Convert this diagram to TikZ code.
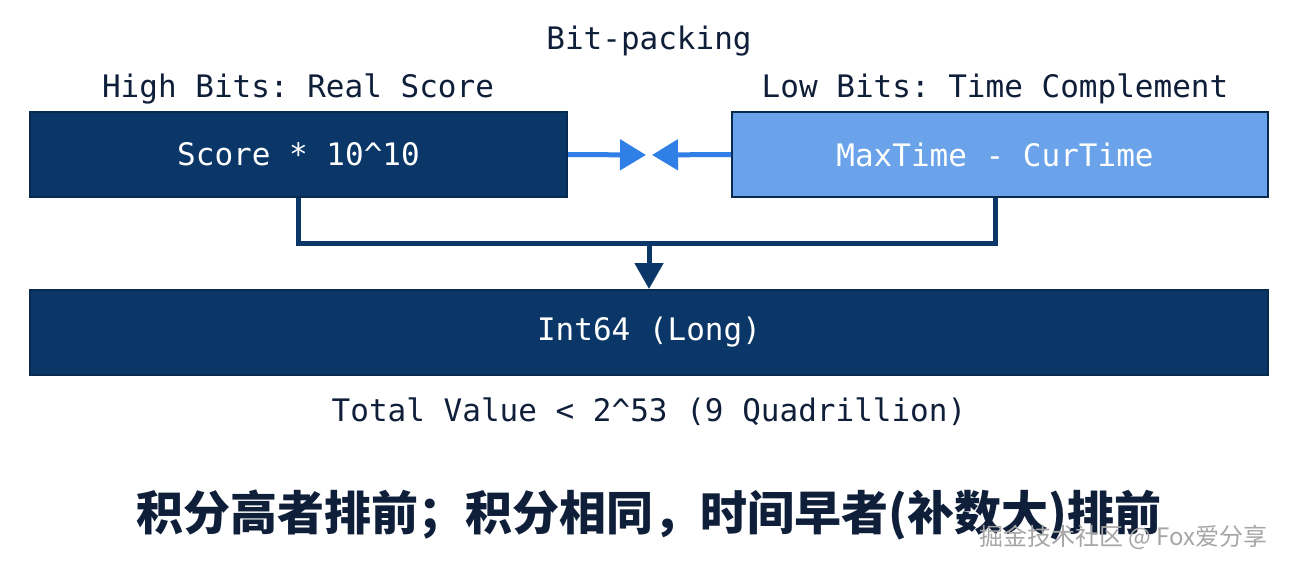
\documentclass[tikz,border=0pt]{standalone}
\usepackage{fontspec}
\setmonofont{DejaVu Sans Mono}
\newfontfamily\cjkfont{Noto Sans CJK SC}
\usetikzlibrary{arrows.meta}
\definecolor{navy}{HTML}{0B3768}
\definecolor{navyedge}{HTML}{082A4E}
\definecolor{lightblue}{HTML}{6AA3EA}
\definecolor{arrowblue}{HTML}{2F7FE6}
\definecolor{inkdark}{HTML}{0F1F3A}
\tikzset{
  lbl/.style={font=\ttfamily\fontsize{31}{31}\selectfont, text=inkdark, inner sep=0pt},
  boxdark/.style={draw=navyedge, line width=2pt, fill=navy, text=white,
    font=\ttfamily\fontsize{31}{31}\selectfont, minimum height=85pt, inner sep=0pt},
  boxlight/.style={draw=navyedge, line width=2pt, fill=lightblue, text=white,
    font=\ttfamily\fontsize{31}{31}\selectfont, minimum height=85pt, inner sep=0pt},
  bluearrow/.style={draw=arrowblue, line width=5pt, -{Triangle[length=26pt,width=30pt]}},
  conn/.style={draw=navy, line width=5pt},
  connarrow/.style={draw=navy, line width=5pt, -{Triangle[length=26pt,width=28pt]}},
}
\begin{document}
\begin{tikzpicture}[x=1pt,y=-1pt]
\useasboundingbox[fill=white] (0,0) rectangle (1292,567);
\node[lbl] (title) at (649,41) {Bit-packing};
\node[lbl] (hi) at (298,89) {High Bits: Real Score};
\node[lbl] (lo) at (995,89) {Low Bits: Time Complement};
\node[boxdark, minimum width=537pt] (L) at (298.5,154.5) {\raisebox{-2pt}{Score * 10\string^10}};
\node[boxlight, minimum width=536pt] (R) at (1000,154.5) {\hspace*{-10pt}\raisebox{-2pt}{MaxTime - CurTime}};
\node[boxdark, minimum width=1238pt] (B) at (649,332.5) {\raisebox{-2pt}{Int64 (Long)}};
\node[lbl] (tot) at (649,412) {Total Value < 2\string^53 (9 Quadrillion)};
\coordinate (mid) at (649,155);
\coordinate (J) at (649,243);
\draw[bluearrow, shorten >=3pt] (L.east) -- (mid);
\draw[bluearrow, shorten >=3pt] (R.west) -- (mid);
\draw[conn] (L.south) |- (J) -| ([xshift=-5pt]R.south);
\draw[connarrow] (J) -- (B.north);
\node[font=\cjkfont\bfseries\fontsize{47}{47}\selectfont, text=inkdark, inner sep=0pt] (cn) at (649,515) {积分高者排前；积分相同，时间早者(补数大)排前};
\node[font=\cjkfont\fontsize{24}{24}\selectfont, text=gray!70, inner sep=0pt] (wm) at (1123.5,537.5) {掘金技术社区 @ Fox爱分享};
\end{tikzpicture}
\end{document}
